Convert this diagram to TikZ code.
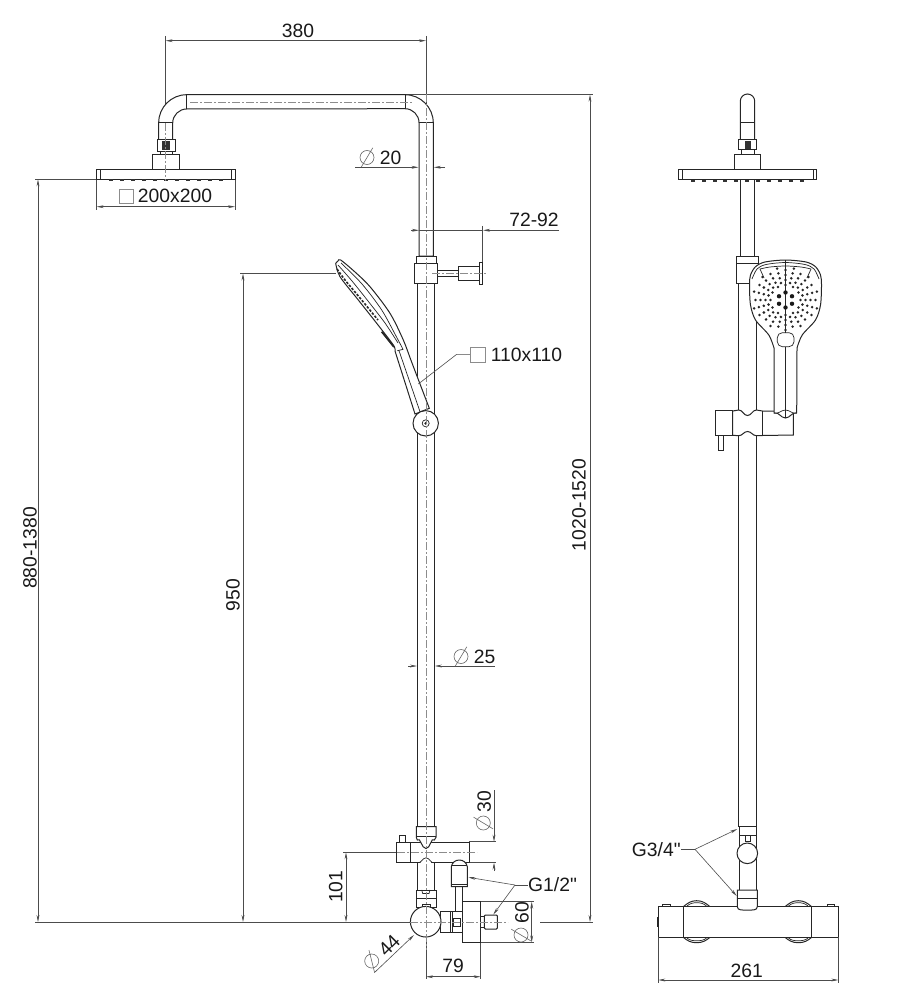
\documentclass[tikz,border=0pt]{standalone}
\usepackage{fontspec}
\setmainfont{Liberation Sans}[Ligatures=TeXOff]
\usetikzlibrary{arrows.meta}
\tikzset{
  part/.style={line width=1pt, black!85, fill=white},
  edge/.style={line width=0.7pt, black!85},
  dimln/.style={line width=0.6pt, black!70, >={Stealth[length=7pt,width=2.8pt]}},
  cline/.style={line width=0.6pt, black!45, dash pattern=on 8pt off 2pt on 2pt off 2pt},
  lbl/.style={font=\fontsize{19.3}{20}\selectfont, inner sep=0pt, text=black!90},
  gsq/.style={line width=0.7pt, black!45}
}
% diameter sign: x, y, angle
\newcommand{\diasign}[3]{\draw[dimln, black!60, shift={(#1,#2)}, rotate=#3] (0,0) circle (7pt) (-5.8,9.7) -- (5.8,-9.7);}
\begin{document}
\begin{tikzpicture}[x=1pt,y=-1pt]
  \useasboundingbox (0,0) rectangle (914,1000);

  % Extension lines
  \draw[dimln] (165.7,36) -- (165.7,123);
  \draw[dimln] (426,36) -- (426,123);
  \draw[dimln] (405,94.7) -- (593,94.7);
  \draw[dimln] (35,179.3) -- (97,179.3);
  \draw[dimln] (240,273.5) -- (336,273.5);
  \draw[dimln] (35,922) -- (410,922);
  \draw[dimln] (540,922) -- (593,922);
  \draw[dimln] (96.7,179) -- (96.7,210);
  \draw[dimln] (235,179) -- (235,210);
  \draw[dimln] (482.7,226) -- (482.7,263);
  \draw[dimln] (343,852.3) -- (397,852.3);
  \draw[dimln] (469,841.7) -- (496,841.7);
  \draw[dimln] (469,862.7) -- (496,862.7);
  \draw[dimln] (480,901.7) -- (534,901.7);
  \draw[dimln] (480,942.3) -- (534,942.3);
  \draw[dimln] (426,940) -- (426,979);
  \draw[dimln] (480.7,942) -- (480.7,979);

  % Arm and shower head, front view
  \draw[part] (158.7,140) -- (158.7,122.7) arc[start angle=180, end angle=90, radius=28pt]
    -- (405,94.7) arc[start angle=90, end angle=0, radius=28.3pt] -- (433.3,256) -- (419,256) -- (419,122.7)
    arc[start angle=0, end angle=90, radius=14pt] -- (186.7,109) arc[start angle=90, end angle=180, radius=14pt] -- (172.7,140) -- cycle;
  \draw[edge] (186.7,94.7) -- (186.7,109) (405,94.7) -- (405,109) (158.7,122.7) -- (172.7,122.7) (419,122.7) -- (433.3,122.7);
  \draw[part] (157,140) rectangle (175,151.7);
  \fill[black!80] (162,141) rectangle (170,150);
  \draw[part] (160,151.7) rectangle (172,155);
  \draw[part] (152.7,155) rectangle (179.3,169.7);
  \draw[part] (96.7,169.7) rectangle (235,179.3);
  \draw[edge] (100.7,169.7) -- (100.7,179.3) (231,169.7) -- (231,179.3);
  \foreach \i in {0,...,10}
    \fill[black!80] (110.7+11*\i-2,179.3) rectangle (110.7+11*\i+2,181.5);

  % Bar and slider
  \draw[part] (417.3,283) rectangle (434.3,826);
  \draw[part] (416.3,256) rectangle (436,263.3);
  \draw[part] (414.3,263.3) rectangle (437.3,283.3);
  \draw[part] (437.3,270.7) rectangle (458.3,276.7);
  \draw[part] (458.3,266) rectangle (479,280.7);
  \draw[part] (479,262.3) rectangle (482.7,284.7);

  % Hand shower, side view
  \draw[part] plot[smooth] coordinates {(335.7,263.3) (338,261) (340.7,260) (355,272) (370,286.7) (390,313.3) (403.3,340) (412,363) (429.3,408.3)}
    -- (415,414) -- (395,351) -- plot[smooth] coordinates {(395,350.7) (393.3,345) (376.7,323.3) (358.3,300) (340,276.7) (335.7,263.3)};
  \draw[edge] plot[smooth] coordinates {(341,263) (362,284) (381.7,310) (396,336) (403,349.3)};
  \draw[edge] plot[smooth] coordinates {(338,265) (352,281) (368,301) (385,323) (398,343)};
  \draw[edge] (399,350.7) -- (420,411.7) (397.3,350.7) -- (403.3,349.3);
  \draw[line width=1.6pt, black!85, dash pattern=on 2.5pt off 1.5pt] plot[smooth] coordinates {(337,269) (345,280) (360,298) (378,320)};
  \draw[line width=1.8pt, black!85] (381.7,331.7) -- (394,347);
  \draw[part] (425.7,423.3) circle (12.7pt);
  \draw[edge] (425.7,423.3) circle (3.5pt);
  \fill[black!85] (425.7,423.3) circle (1.5pt);

  % Valve, side view
  \draw[part] (417.3,862) rectangle (434.3,890);
  \draw[part] (410.7,842) rectangle (469.3,862.7);
  \draw[part] (396.7,842) rectangle (410.7,862.7);
  \draw[part] (399.3,835) rectangle (405.7,842);
  \draw[part] (416.3,826.5) -- (436,826.5) -- (436,837.3) -- (434.3,840) to[out=135,in=0] (426,848.5) to[out=180,in=45] (417.3,840) -- (416.3,837.3) -- cycle;
  \draw[line width=1.3pt, black!85] (416.3,836.7) -- (436,836.7);
  \fill[white] (417.8,863.6) to[out=-20,in=180] (426,857.8) to[out=0,in=200] (433.8,863.6) -- cycle;
  \draw[edge] (417.3,862.7) to[out=-20,in=180] (426,857.8) to[out=0,in=200] (434.3,862.7);
  \draw[part] (455,886) rectangle (462.7,911.7);
  \draw[part] (451.3,866.7) -- (451.3,886.5) -- (467.3,886.5) -- (467.3,866.7) to[out=100,in=0] (459.3,860) to[out=180,in=80] cycle;
  \draw[line width=1.8pt, black!85] (451.8,865.5) -- (466.8,865.5);
  \draw[line width=1.3pt, black!85] (451.3,884.5) -- (467.3,884.5);
  \draw[part] (416,890) rectangle (436.7,907);
  \draw[edge] (416,898.3) -- (436.7,898.3);
  \draw[edge] (421.7,890) -- (422.7,893.5) -- (429,893.5) -- (430,890);
  \draw[part] (440,911.7) rectangle (462.7,932.7);
  \draw[edge] (450.7,911.7) -- (450.7,932.7) (452.7,911.7) -- (452.7,932.7);
  \draw[edge] (453.3,918.3) rectangle (460.7,926);
  \draw[part] (480.7,916.7) rectangle (484.3,927.3);
  \draw[part, rounded corners=1pt] (484.3,915) rectangle (497.3,929);
  \draw[part] (462.7,901.7) rectangle (480.7,942.3);
  \draw[part] (422.3,904.3) rectangle (430,908);
  \draw[part] (425.7,921.7) circle (15.3pt);

  % Center lines
  \draw[cline] (190,102) -- (412,102);
  \draw[cline] (165.7,123) -- (165.7,181);
  \draw[cline] (426,94) -- (426,950);
  \draw[cline] (432,273.5) -- (486,273.5);
  \draw[cline] (397,852.3) -- (477,852.3);
  \draw[cline] (410,922) -- (508,922);

  % Dimensions, front view
  \draw[dimln,<->] (165.7,40.7) -- (426,40.7);
  \node[lbl] (arm) at (298,31) {380};
  \draw[dimln,<->] (96.7,206.7) -- (235,206.7);
  \draw[gsq] (119.3,189.3) rectangle (133.3,203.3);
  \node[lbl] (head) at (175,196) {200x200};
  \draw[dimln,->] (355,167.3) -- (418.5,167.3);
  \draw[dimln,->] (445,167.3) -- (433.8,167.3);
  \diasign{367}{157.5}{0}
  \node[lbl] (arm dia) at (390.5,157.5) {20};
  \draw[dimln,->] (411,230.3) -- (419,230.3);
  \draw[dimln] (419,230.3) -- (483,230.3);
  \draw[dimln,->] (559,230.3) -- (483,230.3);
  \node[lbl] (holder) at (534,220) {72-92};
  \draw[dimln] (418.3,384) -- (456.7,354.3) -- (470,354.3);
  \draw[gsq] (470,347.3) rectangle (485.7,362);
  \node[lbl] (hand) at (526.5,355) {110x110};
  \draw[dimln,<->] (243,273.5) -- (243,922);
  \node[lbl,rotate=90] (hand height) at (233,595) {950};
  \draw[dimln,<->] (38,179.3) -- (38,922);
  \node[lbl,rotate=90] (head height) at (30,548) {880-1380};
  \draw[dimln,<->] (590,94.7) -- (590,922);
  \node[lbl,rotate=90] (total) at (579,505) {1020-1520};
  \draw[dimln,->] (408,666) -- (417,666);
  \draw[dimln,->] (495,666) -- (434.8,666);
  \diasign{461}{656.5}{0}
  \node[lbl] (bar dia) at (484.5,656.5) {25};

  % Dimensions at the valve
  \draw[dimln,->] (494,790) -- (494,841.7);
  \draw[dimln,->] (494,871) -- (494,862.7);
  \diasign{483.3}{823}{90}
  \node[lbl,rotate=90] (body dia) at (484.3,801.7) {30};
  \draw[dimln,<->] (531.7,901.7) -- (531.7,942.3);
  \diasign{521}{935}{90}
  \node[lbl,rotate=90] (disk dia) at (522,912.7) {60};
  \draw[dimln,<->] (426,976.7) -- (480.7,976.7);
  \node[lbl] (outlet) at (453,965.7) {79};
  \draw[dimln,<->] (346,852.3) -- (346,922);
  \node[lbl,rotate=90] (valve height) at (335.7,886.7) {101};
  \draw[dimln,->] (374.3,972.7) -- (414,935);
  \diasign{371.7}{961}{45}
  \node[lbl,rotate=45] (knob dia) at (389.3,945.7) {44};
  \coordinate (thread) at (515,885);
  \node[lbl] (inlet) at (552.5,885) {G1/2"};
  \draw[dimln] (inlet.west) -- (thread);
  \draw[dimln,->] (thread) -- (468.3,877.3);
  \draw[dimln,->] (thread) -- (493.3,914.5);

  % Shower head, side view
  \draw[part] (740.3,180) rectangle (754.7,256);
  \draw[part] (740.3,140) -- (740.3,101.2) arc[start angle=180, end angle=0, radius=7.2pt] -- (754.7,140) -- cycle;
  \draw[edge] (740.3,122.3) -- (754.7,122.3);
  \draw[part] (738.3,140) rectangle (756.3,150);
  \fill[black!80] (744.5,141) rectangle (751,149);
  \draw[part] (741,150) rectangle (754,155);
  \draw[part] (734.3,155) rectangle (760.3,169.3);
  \draw[part] (678.3,169.3) rectangle (816.7,180);
  \draw[edge] (682.3,169.3) -- (682.3,180) (813,169.3) -- (813,180);
  \foreach \i in {0,...,10}
    \fill[black!80] (692.7+10.9*\i-2,180) rectangle (692.7+10.9*\i+2,182);

  % Bar, side view
  \draw[part] (738.8,283) rectangle (756.4,826);
  \draw[part] (736.3,256) rectangle (758,263.3);
  \draw[part] (736.3,263.3) rectangle (758,283.3);

  % Slider, side view
  \draw[part] (718,435) rectangle (723.3,450);
  \draw[part] (715.3,410.7) rectangle (732.7,435.3);
  \draw[part] (732.7,411) to[out=0,in=180] (738.8,410) to[out=0,in=180] (747.5,415.5) to[out=0,in=180] (756.4,410) to[out=0,in=180] (762.3,411) -- (793.3,411) -- (793.3,435)
    -- (762.3,435.5) to[out=180,in=0] (756.4,435.7) to[out=180,in=0] (747.5,431.5) to[out=180,in=0] (738.8,435.7) to[out=180,in=0] (732.7,435.3) -- cycle;
  \draw[edge] (762.3,411) -- (762.3,435.5);

  % Hand shower, front view
  \draw[part] plot[smooth] coordinates {(774,348) (768.8,335) (755.5,320) (750.5,305) (749.5,285) (750.5,275) (755.5,266.7) (765,262) (785.5,260) (806,262) (815.5,266.7) (820.5,275) (821.5,285) (820.5,305) (815.5,320) (802.2,335) (797,348)}
    -- (796.7,413) to[out=160,in=0] (785.5,418) to[out=180,in=20] (774,413) -- cycle;
  \draw[edge] plot[smooth] coordinates {(752,279) (757,269) (766,264.5) (785.5,262.5) (805,264.5) (814,269) (819,279)};
  \draw[edge] plot[smooth] coordinates {(760,269) (770,267) (785.5,266) (801,267) (811,269)};
  \draw[edge] (760,269) -- (764,278) (811,269) -- (807,278);
  \draw[edge] (785.5,260) -- (785.5,332.7) (785.5,346.7) -- (785.5,418);
  \draw[edge] (774,413) to[out=-20,in=180] (785.5,410) to[out=0,in=200] (796.7,413);
  \draw[edge, rounded corners=5pt] (777.3,332.7) rectangle (794,346.7);
  \foreach \a in {30,90,...,330}
    \fill[black!90] ({785.5+7.5*cos(\a)},{300+7.5*sin(\a)}) circle (2.2pt);
  \foreach \a in {0,30,...,330}
    \foreach \r in {15,20,25,30}
      \fill[black!85] ({785.5+\r*cos(\a)},{300+\r*sin(\a)}) circle (1.4pt);
  \foreach \a in {15,45,...,345}
    \foreach \r in {17.5,22.5,27.5}
      \fill[black!85] ({785.5+\r*cos(\a)},{300+\r*sin(\a)}) circle (1.4pt);
  \foreach \a in {195,225,255,285,315,345,15,165}
    \fill[black!85] ({785.5+32.5*cos(\a)},{300+32.5*sin(\a)}) circle (1.4pt);

  % Valve, back view
  \draw[part] (739,826) rectangle (756.7,890);
  \draw[edge] (739,835) -- (756.7,835);
  \draw[part] (745,835) rectangle (750,841);
  \draw[part] (747.3,853.3) circle (10.3pt);
  \draw[part] (662.7,904) rectangle (670,907);
  \draw[part] (827.3,904) rectangle (834.3,907);
  \draw[part] (683.3,906.7) to[out=40,in=180] (696.6,900.7) to[out=0,in=140] (710,906.7) -- cycle;
  \draw[part] (785,906.7) to[out=40,in=180] (798.3,900.7) to[out=0,in=140] (811.7,906.7) -- cycle;
  \draw[part] (683.3,937.3) to[out=-40,in=180] (696.6,942.7) to[out=0,in=-140] (710,937.3) -- cycle;
  \draw[part] (785,937.3) to[out=-40,in=180] (798.3,942.7) to[out=0,in=-140] (811.7,937.3) -- cycle;
  \draw[edge] (687,906) to[out=40,in=180] (696.6,902.7) to[out=0,in=140] (706.5,906);
  \draw[edge] (788.5,906) to[out=40,in=180] (798.3,902.7) to[out=0,in=140] (808,906);
  \draw[edge] (687,938) to[out=-40,in=180] (696.6,940.7) to[out=0,in=-140] (706.5,938);
  \draw[edge] (788.5,938) to[out=-40,in=180] (798.3,940.7) to[out=0,in=-140] (808,938);
  \draw[part] (658.3,906.7) rectangle (838.3,937.3);
  \draw[line width=1.6pt, black!85] (657.7,917) -- (657.7,927);
  \draw[edge] (683.3,906.7) -- (683.3,937.3) (811.7,906.7) -- (811.7,937.3);
  \draw[part] (737.3,890) -- (757.3,890) -- (757.3,906.7) to[out=-90,in=0] (747.3,910) to[out=180,in=-90] (737.3,906.7) -- cycle;
  \draw[edge] (737.3,898) -- (757.3,898);

  % Dimensions, side and back view
  \draw[dimln] (658.3,937) -- (658.3,983);
  \draw[dimln] (838.3,937) -- (838.3,983);
  \draw[dimln,<->] (658.3,980) -- (838.3,980);
  \node[lbl] (width) at (746.7,970.7) {261};
  \coordinate (union) at (695,849.3);
  \node[lbl] (union label) at (656.3,849.3) {G3/4"};
  \draw[dimln] (union label.east) -- (union);
  \draw[dimln,->] (union) -- (737.3,829);
  \draw[dimln,->] (union) -- (736.7,896);
\end{tikzpicture}
\end{document}
